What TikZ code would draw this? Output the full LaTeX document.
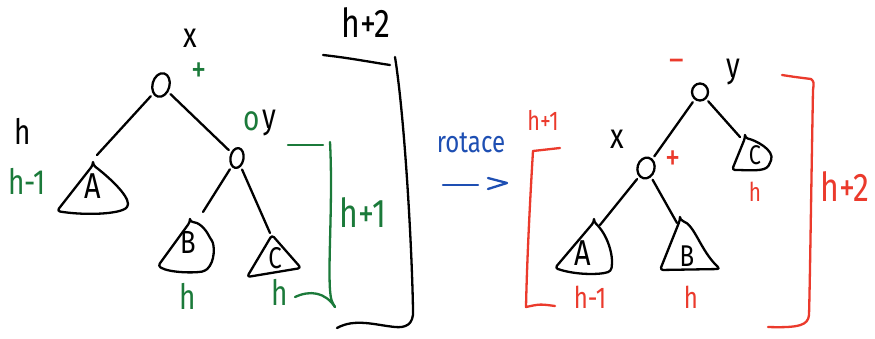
\documentclass[tikz,border=0pt]{standalone}
\usepackage{fontspec}
\setmainfont{Fira Sans}[FakeStretch=0.8]
\usetikzlibrary{shapes.geometric}
\definecolor{hgreen}{HTML}{1B7A3A}
\definecolor{hred}{HTML}{EB3A2C}
\definecolor{hblue}{HTML}{1E4FB3}
\begin{document}
\begin{tikzpicture}[x=1pt,y=-1pt, line cap=round, line join=round,
 ink/.style={line width=2.3pt},
 vert/.style={draw, ellipse, line width=2.3pt, inner sep=0pt},
 edge/.style={line width=2.3pt, shorten <=3pt},
 tri/.style={draw, line width=2.3pt, rounded corners=3pt},
 lbl/.style={inner sep=0pt, font=\fontsize{35}{35}\selectfont},
 sgn/.style={inner sep=0pt, font=\fontsize{38}{38}\selectfont},
 big/.style={inner sep=0pt, font=\fontsize{40}{40}\selectfont},
 letter/.style={inner sep=0pt, font=\fontsize{36}{36}\selectfont},
 brk/.style={line width=2.3pt},
]
\useasboundingbox (0,0) rectangle (875,338);
\fill[white] (0,0) rectangle (875,338);

% ---------- left tree ----------
\node[vert, minimum width=17pt, minimum height=24pt, rotate=-15] (xL) at (161,85) {};
\node[vert, minimum width=13pt, minimum height=20pt, rotate=-10] (yL) at (237,158) {};
\coordinate (xLa) at (97,155);
\coordinate (yLb) at (203,212);
\coordinate (yLc) at (270,233);
\draw[edge] (xL) -- (xLa);
\draw[edge, shorten >=3pt] (xL) -- (yL);
\draw[edge] (yL) -- (yLb);
\draw[edge] (yL) -- (yLc);

\draw[tri] (93,165) -- (57,211) .. controls (80,215) and (115,215) .. (128,207) .. controls (128,195) and (110,178) .. cycle;
\node[letter] (AL) at (93,186) {A};
\draw[tri] (190,222) -- (158,266) .. controls (170,273) and (195,273) .. (205,271) .. controls (215,262) and (215,245) .. (210,238) .. controls (205,228) and (198,222) .. cycle;
\node[letter, font=\fontsize{32}{32}\selectfont] (BL) at (188,242) {B};
\draw[tri] (272,235) -- (247,277) -- (301,268) -- cycle;
\node[letter, font=\fontsize{30}{30}\selectfont] (CL) at (275,258) {C};

\node[lbl] (lx) at (190,38) {x};
\node[sgn, text=hgreen] (lplus) at (199,73) {+};
\node[lbl, text=hgreen] (lo) at (252,121) {o};
\node[lbl] (ly) at (269,123) {y};
\node[lbl] (lh) at (23,131) {h};
\node[lbl, text=hgreen] (lhm) at (27,181) {h-1};
\node[lbl, text=hgreen] (lhB) at (188,296) {h};
\node[lbl, text=hgreen] (lhC) at (280,292) {h};

% green bracket
\draw[hgreen, brk] (288,145) -- (323,145);
\draw[hgreen, brk] (330,142) .. controls (333,200) and (328,260) .. (330,290) .. controls (331,300) .. (335,307);
\draw[hgreen, brk] (295,297) .. controls (310,290) and (325,292) .. (335,307);
\node[big, text=hgreen] (gh1) at (363,213) {h+1};

% black bracket
\draw[brk] (323,55) .. controls (350,58) and (370,62) .. (390,65);
\draw[brk] (395,57) .. controls (405,120) and (412,250) .. (413,310) .. controls (414,325) and (405,328) .. (395,327) .. controls (375,325) and (355,318) .. (337,328);
\node[big] (bh2) at (366,23) {h+2};

% ---------- rotation arrow ----------
\node[lbl, text=hblue, font=\fontsize{30}{30}\selectfont] (rot) at (471,143) {rotace};
\coordinate (arS) at (443,185);
\coordinate (arE) at (478,185);
\coordinate (chA) at (488,178);
\coordinate (chB) at (507,183);
\coordinate (chC) at (488,189);
\draw[hblue, ink] (arS) -- (arE);
\draw[hblue, ink] (chA) -- (chB) -- (chC);

% ---------- right tree ----------
\node[vert, minimum width=16pt, minimum height=17pt] (yR) at (700,92) {};
\node[vert, minimum width=17pt, minimum height=21pt, rotate=-15] (xR) at (646,168) {};
\coordinate (xRa) at (600,225);
\coordinate (xRb) at (677,223);
\coordinate (yRc) at (740,137);
\draw[edge, shorten >=3pt] (yR) -- (xR);
\draw[edge] (xR) -- (xRa);
\draw[edge] (xR) -- (xRb);
\draw[edge] (yR) -- (yRc);

\draw[tri] (594,222) -- (555,268) .. controls (575,275) and (600,275) .. (611,271) .. controls (614,255) and (607,234) .. cycle;
\node[letter] (AR) at (583,253) {A};
\draw[tri] (680,220) -- (660,270) -- (720,269) .. controls (700,250) and (695,225) .. cycle;
\node[letter, font=\fontsize{30}{30}\selectfont] (BR) at (687,256) {B};
\draw[tri] (745,138) -- (732,170) .. controls (750,170) and (765,172) .. (770,163) .. controls (775,150) and (755,140) .. cycle;
\node[letter, font=\fontsize{27}{27}\selectfont] (CR) at (755,155) {C};

\node[lbl, text=hred] (rminus) at (677,65) {–};
\node[lbl] (ry) at (733,72) {y};
\node[lbl] (rx) at (617,139) {x};
\node[sgn, text=hred] (rplus) at (673,161) {+};
\node[lbl, text=hred, font=\fontsize{26}{26}\selectfont] (rhC) at (755,192) {h};
\node[lbl, text=hred, font=\fontsize{30}{30}\selectfont] (rhA) at (590,297) {h-1};
\node[lbl, text=hred, font=\fontsize{30}{30}\selectfont] (rhB) at (691,297) {h};

% red left bracket
\node[lbl, text=hred, font=\fontsize{27}{27}\selectfont] (rh1) at (543,120) {h+1};
\draw[hred, brk] (533,151) -- (560,148);
\draw[hred, brk] (533,151) .. controls (530,200) and (527,260) .. (526,307) .. controls (540,304) .. (555,306);

% red right bracket
\draw[hred, brk] (782,75) .. controls (795,77) .. (811,79) .. controls (814,82) .. (813,90) .. controls (811,200) and (810,280) .. (809,315) .. controls (808,325) and (800,328) .. (768,327);
\node[big, text=hred] (rh2) at (845,187) {h+2};
\end{tikzpicture}
\end{document}
